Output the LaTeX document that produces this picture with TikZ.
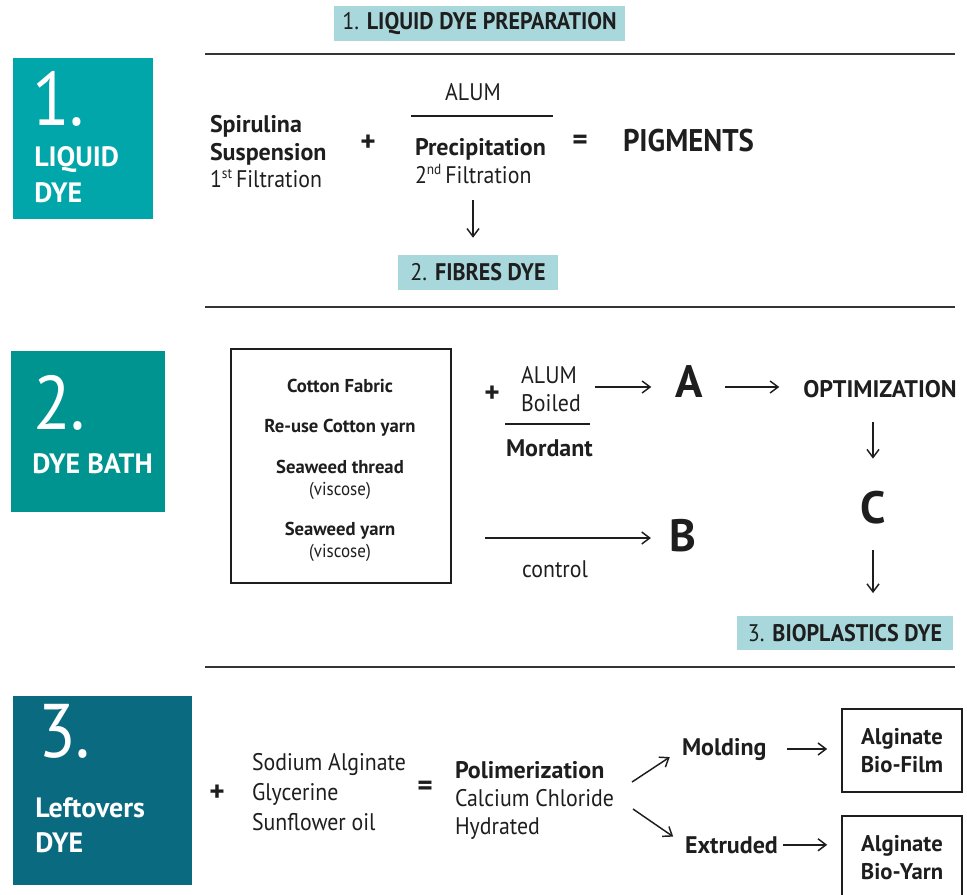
\documentclass[tikz,border=0pt]{standalone}
\usepackage{fontspec}
\setmainfont{PT Sans}[UprightFeatures={FakeStretch=0.91}]
\newfontfamily\tagfont{PT Sans}[FakeStretch=0.92]
\usetikzlibrary{arrows.meta}
\definecolor{dyeA}{RGB}{0,166,170}
\definecolor{dyeB}{RGB}{0,148,144}
\definecolor{dyeC}{RGB}{10,106,128}
\definecolor{tag}{RGB}{168,216,220}
\definecolor{ink}{RGB}{30,30,30}
\newcommand{\fsz}[1]{\fontsize{#1}{#1}\selectfont}
\newcommand{\sps}[1]{\raisebox{6.5pt}{\fontsize{11}{11}\selectfont #1}}

\begin{document}
\begin{tikzpicture}[x=0.75pt, y=-0.75pt,
		txt/.style={inner sep=0pt, outer sep=0pt, text=ink, anchor=base west, font=\fsz{18}},
		bftxt/.style={txt, font=\fsz{18}\bfseries},
		bigtxt/.style={txt, anchor=base, font=\fsz{34}\bfseries},
		sign/.style={txt, anchor=center, font=\fsz{22}\bfseries},
		boxnum/.style={inner sep=0pt, text=white, anchor=base west, font=\fsz{57}},
		boxlbl/.style={inner sep=0pt, text=white, anchor=base west, font=\fsz{21}\bfseries},
		tagbox/.style={fill=tag, inner sep=0pt, text=ink, font=\tagfont\fsz{18}},
		endbox/.style={draw=ink, line width=1.2pt, inner sep=0pt, text=ink, align=center, font={\fontsize{17}{21}\selectfont\bfseries}},
		rule/.style={draw=ink!90, line width=1.5pt},
		arr/.style={draw=ink, line width=1.1pt, -{Straight Barb[length=6pt, width=9pt]}}]
	\useasboundingbox (0,0) rectangle (967,894);

	% 1. liquid dye
	\node [tagbox, minimum width=218.25pt, minimum height=26.25pt] (0) at (479.5, 23.5) {1. \textbf{LIQUID DYE PREPARATION}};
	\draw [rule] (205, 54) -- (955, 54);
	\fill [dyeA] (13, 58) rectangle (153, 219);
	\node [boxnum] (1) at (32, 125) {1.};
	\node [boxlbl] (2) at (34, 166) {LIQUID};
	\node [boxlbl] (3) at (34, 202) {DYE};
	\node [bftxt] (4) at (210, 132) {Spirulina};
	\node [bftxt] (5) at (210, 160) {Suspension};
	\node [txt] (6) at (210, 187) {1\sps{st}\,Filtration};
	\node [sign] (7) at (368, 143) {+};
	\node [txt, anchor=base] (8) at (473, 100) {ALUM};
	\draw [ink, line width=1.2pt] (411, 116) -- (553, 116);
	\node [bftxt] (9) at (415, 155) {Precipitation};
	\node [txt] (10) at (415, 183) {2\sps{nd}\,Filtration};
	\node [sign] (11) at (580, 142) {=};
	\node [bftxt, font=\tagfont\fsz{23.5}\bfseries] (12) at (623, 151) {PIGMENTS};
	\coordinate (13) at (473, 200);
	\node [tagbox, minimum width=120pt, minimum height=26.25pt] (14) at (478, 272.5) {2. \textbf{FIBRES DYE}};
	\draw [arr, shorten >=12.75pt] (13) -- (13 |- 14.north);

	% 2. dye bath
	\draw [rule] (205, 307) -- (955, 307);
	\fill [dyeB] (11, 351) rectangle (165, 512);
	\node [boxnum] (15) at (33, 429) {2.};
	\node [boxlbl] (16) at (32, 473) {DYE BATH};
	\draw [ink, line width=1.2pt] (231, 349) rectangle (451, 583);
	\node [bftxt, anchor=base, font=\fsz{14}\bfseries] (17) at (340, 392) {Cotton Fabric};
	\node [bftxt, anchor=base, font=\fsz{14}\bfseries] (18) at (340, 432) {Re-use Cotton yarn};
	\node [bftxt, anchor=base, font=\fsz{14}\bfseries] (19) at (340, 473) {Seaweed thread};
	\node [txt, anchor=base, font=\fsz{14}] (20) at (340, 495) {(viscose)};
	\node [bftxt, anchor=base, font=\fsz{14}\bfseries] (21) at (340, 535) {Seaweed yarn};
	\node [txt, anchor=base, font=\fsz{14}] (22) at (340, 557) {(viscose)};
	\node [sign] (23) at (492, 394) {+};
	\node [txt, anchor=base] (24) at (549, 383) {ALUM};
	\node [txt, anchor=base] (25) at (551, 411) {Boiled};
	\draw [ink, line width=1.2pt] (505, 424) -- (590, 424);
	\node [bftxt] (26) at (506, 456) {Mordant};
	\node [bigtxt] (27) at (689, 397) {A};
	\node [bftxt, anchor=base] (28) at (880, 397) {OPTIMIZATION};
	\node [bigtxt] (29) at (873, 523) {C};
	\node [tagbox, minimum width=162pt, minimum height=25.5pt] (30) at (845, 633) {3. \textbf{BIOPLASTICS DYE}};
	\coordinate (31) at (485, 538);
	\node [bigtxt] (32) at (683, 551) {B};
	\node [txt, anchor=base] (33) at (555, 577) {control};
	\coordinate (34) at (0, 387);
	\draw [arr, shorten <=14pt, shorten >=18pt] (24.east |- 34) -- (27.west |- 34);
	\draw [arr, shorten <=17pt, shorten >=18pt] (27.east |- 34) -- (28.west |- 34);
	\draw [arr, shorten <=18.75pt, shorten >=24pt] (29 |- 28.south) -- (29.north);
	\draw [arr, shorten <=20pt, shorten >=17pt] (29.south) -- (29.south |- 30.north);
	\draw [arr, shorten >=14pt] (31) -- (31 -| 32.west);

	% 3. leftovers dye
	\draw [rule] (205, 667) -- (955, 667);
	\fill [dyeC] (13, 696) rectangle (192, 885);
	\node [boxnum] (35) at (38, 757) {3.};
	\node [boxlbl] (36) at (35, 817) {Leftovers};
	\node [boxlbl] (37) at (35, 852) {DYE};
	\node [sign] (38) at (217, 793) {+};
	\node [txt] (39) at (252, 770) {Sodium Alginate};
	\node [txt] (40) at (252, 800) {Glycerine};
	\node [txt] (41) at (252, 830) {Sunflower oil};
	\node [sign] (42) at (425, 788) {=};
	\node [bftxt] (43) at (455, 778) {Polimerization};
	\node [txt] (44) at (455, 806) {Calcium Chloride};
	\node [txt] (45) at (455, 834) {Hydrated};
	\coordinate (46) at (632, 782);
	\coordinate (47) at (633, 809);
	\node [bftxt] (48) at (682, 755) {Molding};
	\node [bftxt] (49) at (685, 853) {Extruded};
	\node [endbox, minimum width=90pt, minimum height=62.25pt] (50) at (902, 750.5) {Alginate\\Bio-Film};
	\node [endbox, minimum width=90pt, minimum height=63pt] (51) at (902, 858) {Alginate\\Bio-Yarn};
	\draw [arr, shorten >=11pt] (46) -- (48.west);
	\draw [arr, shorten >=10.8pt] (47) -- (49.west);
	\draw [arr, shorten <=15.75pt, shorten >=10.5pt] (48.east) -- (48.east -| 50.west);
	\draw [arr, shorten <=3.75pt, shorten >=10.5pt] (49.east) -- (49.east -| 51.west);
\end{tikzpicture}
\end{document}
